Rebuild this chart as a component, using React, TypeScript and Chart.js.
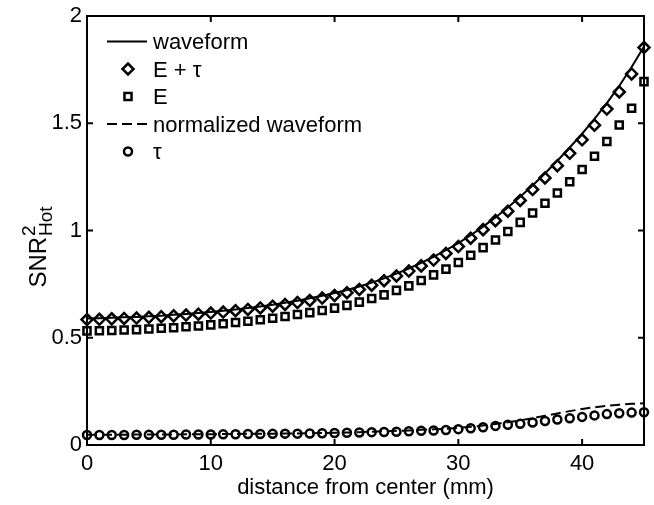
import React, { useEffect, useRef } from 'react';
import { Chart, registerables } from 'chart.js';

Chart.register(...registerables);

const distance = [0, 1, 2, 3, 4, 5, 6, 7, 8, 9, 10, 11, 12, 13, 14, 15, 16, 17, 18, 19, 20, 21, 22, 23, 24, 25, 26, 27, 28, 29, 30, 31, 32, 33, 34, 35, 36, 37, 38, 39, 40, 41, 42, 43, 44, 45];

const waveform = [0.590, 0.591, 0.593, 0.595, 0.597, 0.600, 0.603, 0.607, 0.611, 0.615, 0.620, 0.626, 0.632, 0.639, 0.646, 0.654, 0.663, 0.673, 0.684, 0.696, 0.709, 0.723, 0.739, 0.757, 0.777, 0.799, 0.823, 0.849, 0.877, 0.908, 0.941, 0.978, 1.018, 1.061, 1.107, 1.157, 1.210, 1.266, 1.325, 1.387, 1.451, 1.520, 1.594, 1.674, 1.762, 1.858];

const ePlusTau = [0.585, 0.586, 0.588, 0.590, 0.592, 0.595, 0.598, 0.602, 0.606, 0.610, 0.615, 0.620, 0.626, 0.632, 0.639, 0.647, 0.655, 0.664, 0.674, 0.685, 0.697, 0.710, 0.725, 0.745, 0.766, 0.788, 0.811, 0.835, 0.862, 0.893, 0.925, 0.964, 1.004, 1.046, 1.090, 1.140, 1.191, 1.245, 1.302, 1.360, 1.423, 1.491, 1.566, 1.646, 1.730, 1.853];

const eOnly = [0.532, 0.533, 0.534, 0.536, 0.538, 0.541, 0.544, 0.547, 0.551, 0.555, 0.560, 0.565, 0.571, 0.577, 0.584, 0.591, 0.599, 0.608, 0.617, 0.627, 0.638, 0.651, 0.666, 0.683, 0.700, 0.721, 0.742, 0.767, 0.793, 0.820, 0.851, 0.885, 0.920, 0.956, 0.995, 1.038, 1.082, 1.127, 1.175, 1.227, 1.284, 1.346, 1.415, 1.492, 1.570, 1.694];

const normalizedWaveform = [0.048, 0.048, 0.048, 0.048, 0.049, 0.049, 0.049, 0.049, 0.050, 0.050, 0.050, 0.051, 0.051, 0.052, 0.052, 0.053, 0.054, 0.054, 0.055, 0.056, 0.057, 0.058, 0.060, 0.062, 0.064, 0.066, 0.068, 0.071, 0.073, 0.076, 0.080, 0.085, 0.091, 0.098, 0.106, 0.115, 0.125, 0.136, 0.147, 0.158, 0.168, 0.176, 0.183, 0.188, 0.192, 0.195];

const tau = [0.047, 0.047, 0.047, 0.047, 0.048, 0.048, 0.048, 0.048, 0.049, 0.049, 0.049, 0.050, 0.050, 0.051, 0.051, 0.052, 0.053, 0.053, 0.054, 0.055, 0.056, 0.057, 0.058, 0.060, 0.061, 0.062, 0.064, 0.066, 0.068, 0.070, 0.074, 0.078, 0.083, 0.089, 0.094, 0.099, 0.105, 0.112, 0.119, 0.125, 0.131, 0.138, 0.144, 0.148, 0.151, 0.153];

const xTicks = [0, 10, 20, 30, 40];
const yTicks = [0, 0.5, 1, 1.5, 2];
const xTickLabels = ['0', '10', '20', '30', '40'];
const yTickLabels = ['0', '0.5', '1', '1.5', '2'];

const legendLabels = ['waveform', 'E + \u03c4', 'E', 'normalized waveform', '\u03c4'];
const xTitle = 'distance from center (mm)';

const FONT = '"Liberation Sans", Arial, Helvetica, sans-serif';
const FONT_SIZE = 22;

const DIAMOND_R = 5.5;
const SQUARE_R = 5;
const CIRCLE_R = 4;
const MARKER_W = 2.5;

const toPoints = (ys: number[]) => distance.map((x, i) => ({ x, y: ys[i] }));

function drawMarker(ctx: CanvasRenderingContext2D, kind: string, x: number, y: number) {
  ctx.beginPath();
  if (kind === 'diamond') {
    const r = DIAMOND_R;
    ctx.moveTo(x - r, y);
    ctx.lineTo(x, y - r);
    ctx.lineTo(x + r, y);
    ctx.lineTo(x, y + r);
    ctx.closePath();
  } else if (kind === 'square') {
    const h = SQUARE_R * Math.SQRT1_2;
    ctx.rect(x - h, y - h, 2 * h, 2 * h);
  } else {
    ctx.arc(x, y, CIRCLE_R, 0, Math.PI * 2);
  }
  ctx.fillStyle = '#fff';
  ctx.fill();
  ctx.lineWidth = MARKER_W;
  ctx.strokeStyle = '#000';
  ctx.stroke();
}

const framePlugin = {
  id: 'matlabFrame',
  afterDraw(chart: any) {
    const { ctx, chartArea } = chart;
    const { left, right, top, bottom } = chartArea;
    const xs = chart.scales.x;
    const ys = chart.scales.y;
    ctx.save();
    ctx.strokeStyle = '#000';
    ctx.lineWidth = 2;
    ctx.setLineDash([]);
    ctx.strokeRect(left, top, right - left, bottom - top);
    const tl = 6;
    ctx.beginPath();
    for (const v of xTicks) {
      const px = xs.getPixelForValue(v);
      ctx.moveTo(px, bottom);
      ctx.lineTo(px, bottom - tl);
      ctx.moveTo(px, top);
      ctx.lineTo(px, top + tl);
    }
    for (const v of yTicks) {
      const py = ys.getPixelForValue(v);
      ctx.moveTo(left, py);
      ctx.lineTo(left + tl, py);
      ctx.moveTo(right, py);
      ctx.lineTo(right - tl, py);
    }
    ctx.stroke();

    // legend
    const lx0 = left + 20;
    const lx1 = left + 60;
    const mx = left + 41;
    const tx = left + 66;
    const kinds = ['line', 'diamond', 'square', 'dash', 'circle'];
    ctx.font = `${FONT_SIZE}px ${FONT}`;
    ctx.textBaseline = 'alphabetic';
    ctx.textAlign = 'left';
    kinds.forEach((k, i) => {
      const by = top + 33 + 27.5 * i;
      const my = by - 7.5;
      if (k === 'line' || k === 'dash') {
        ctx.beginPath();
        ctx.lineWidth = 2;
        ctx.strokeStyle = '#000';
        ctx.setLineDash(k === 'dash' ? [10, 5] : []);
        ctx.moveTo(lx0, my);
        ctx.lineTo(lx1, my);
        ctx.stroke();
        ctx.setLineDash([]);
      } else {
        drawMarker(ctx, k, mx, my);
      }
      ctx.fillStyle = '#000';
      ctx.fillText(legendLabels[i], tx, by);
    });

    // y title: SNR^2_Hot, rotated
    ctx.save();
    ctx.translate(46, 247);
    ctx.rotate(-Math.PI / 2);
    ctx.fillStyle = '#000';
    ctx.textBaseline = 'alphabetic';
    ctx.textAlign = 'left';
    const bigFont = `24px ${FONT}`;
    const smallFont = `19px ${FONT}`;
    ctx.font = bigFont;
    const snr = 'SNR';
    const wSnr = ctx.measureText(snr).width;
    ctx.font = smallFont;
    const wHot = ctx.measureText('Hot').width;
    const total = wSnr + wHot + 1;
    const sx = -total / 2;
    ctx.font = bigFont;
    ctx.fillText(snr, sx, 0);
    ctx.font = smallFont;
    ctx.fillText('2', sx + wSnr + 1, -11);
    ctx.fillText('Hot', sx + wSnr + 1, 6);
    ctx.restore();

    ctx.restore();
  },
};

export default function App() {
  const canvasRef = useRef<HTMLCanvasElement | null>(null);

  useEffect(() => {
    const canvas = canvasRef.current;
    if (!canvas) return;
    const markerDataset = (label: string, ys: number[], style: string, r: number) => ({
      label,
      data: toPoints(ys),
      showLine: false,
      pointStyle: style,
      pointRadius: r,
      pointBorderWidth: MARKER_W,
      pointBorderColor: '#000',
      pointBackgroundColor: '#fff',
      clip: false,
    });
    const chart = new Chart(canvas, {
      type: 'line',
      data: {
        datasets: [
          {
            label: legendLabels[0],
            data: toPoints(waveform),
            borderColor: '#000',
            borderWidth: 2,
            pointRadius: 0,
            fill: false,
            tension: 0,
            clip: false,
          },
          markerDataset(legendLabels[1], ePlusTau, 'rectRot', DIAMOND_R),
          markerDataset(legendLabels[2], eOnly, 'rect', SQUARE_R),
          {
            label: legendLabels[3],
            data: toPoints(normalizedWaveform),
            borderColor: '#000',
            borderWidth: 2,
            borderDash: [10, 5],
            pointRadius: 0,
            fill: false,
            tension: 0,
            clip: false,
          },
          markerDataset(legendLabels[4], tau, 'circle', CIRCLE_R),
        ] as any,
      },
      options: {
        responsive: false,
        animation: false,
        devicePixelRatio: 1,
        layout: { padding: { top: 14, right: 10, left: 0, bottom: 0 } },
        plugins: {
          legend: { display: false },
          tooltip: { enabled: false },
        },
        scales: {
          x: {
            type: 'linear',
            min: 0,
            max: 45,
            grid: { display: false, drawTicks: false },
            border: { display: false },
            afterBuildTicks: (s: any) => {
              s.ticks = xTicks.map((v) => ({ value: v }));
            },
            afterFit: (s: any) => {
              s.height = 60;
            },
            ticks: {
              color: '#000',
              padding: 8,
              maxRotation: 0,
              font: { family: FONT, size: FONT_SIZE, lineHeight: 1 },
              callback: (v: any) => {
                const i = xTicks.indexOf(Number(v));
                return i >= 0 ? xTickLabels[i] : '';
              },
            },
            title: {
              display: true,
              text: xTitle,
              color: '#000',
              font: { family: FONT, size: FONT_SIZE, lineHeight: 1.2 },
              padding: { top: 0, bottom: 4 },
            },
          },
          y: {
            type: 'linear',
            min: 0,
            max: 2,
            grid: { display: false, drawTicks: false },
            border: { display: false },
            afterBuildTicks: (s: any) => {
              s.ticks = yTicks.map((v) => ({ value: v }));
            },
            afterFit: (s: any) => {
              s.width = 87;
            },
            ticks: {
              color: '#000',
              padding: 5,
              font: { family: FONT, size: FONT_SIZE, lineHeight: 1 },
              callback: (v: any) => {
                const i = yTicks.indexOf(Number(v));
                return i >= 0 ? yTickLabels[i] : '';
              },
            },
          },
        },
      },
      plugins: [framePlugin],
    });
    return () => chart.destroy();
  }, []);

  return (
    <div style={{ position: 'fixed', left: 0, top: 0, width: 654, height: 505, background: '#fff' }}>
      <canvas ref={canvasRef} width={654} height={505} style={{ display: 'block' }} />
    </div>
  );
}
